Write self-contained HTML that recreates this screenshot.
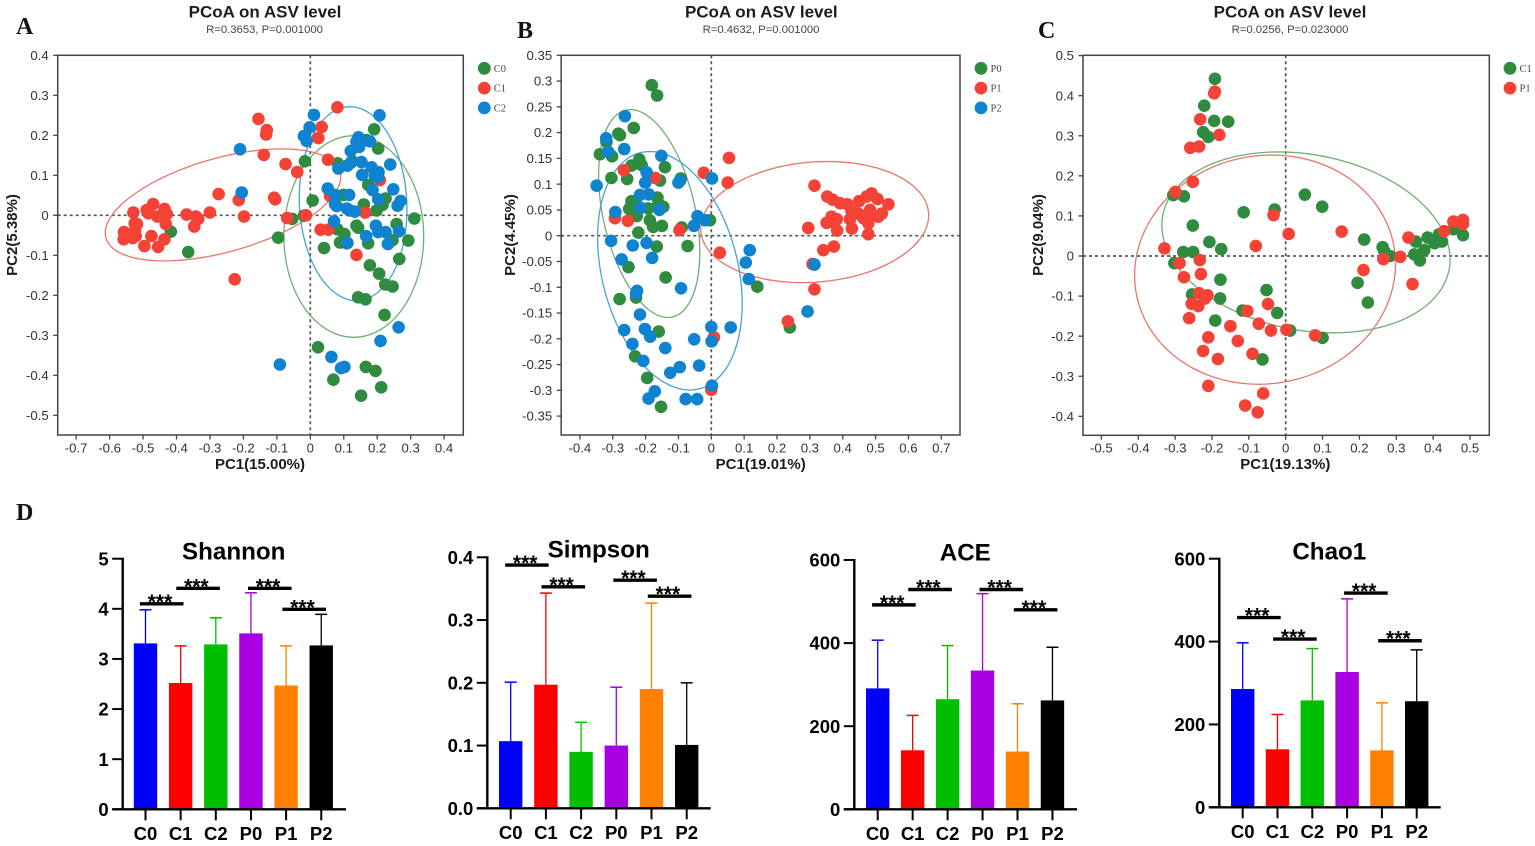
<!DOCTYPE html>
<html lang="en">
<head>
<meta charset="utf-8">
<title>PCoA and alpha diversity figure</title>
<style>
html,body{margin:0;padding:0;background:#fff;}
svg{display:block;}
text{font-family:"Liberation Sans",sans-serif;}
.letter{font-family:"Liberation Serif",serif;font-weight:bold;font-size:24px;fill:#111;}
.ptitle{font-weight:bold;font-size:17px;fill:#1c1c1c;text-anchor:middle;}
.psub{font-size:11.3px;fill:#444;text-anchor:middle;}
.axt{font-weight:bold;font-size:15px;fill:#1c1c1c;text-anchor:middle;}
.tick{font-size:13.2px;fill:#333;}
.leg{font-family:"Liberation Serif",serif;font-size:10.5px;fill:#444;}
.btitle{font-weight:bold;font-size:24.2px;fill:#000;text-anchor:middle;}
.btick{font-weight:bold;font-size:18.5px;fill:#000;}
.star{font-weight:bold;font-size:21px;fill:#000;text-anchor:middle;}
</style>
</head>
<body>
<svg id="fig" xmlns="http://www.w3.org/2000/svg" width="1535" height="846" viewBox="0 0 1535 846">
<rect x="0" y="0" width="1535" height="846" fill="#ffffff"/>
<text class="letter" x="16" y="34">A</text>
<text class="letter" x="517" y="38">B</text>
<text class="letter" x="1038" y="38">C</text>
<text class="letter" x="16" y="520">D</text>
<text class="ptitle" x="265" y="17.5">PCoA on ASV level</text>
<text class="psub" x="264.5" y="33">R=0.3653, P=0.001000</text>
<text class="ptitle" x="761.3" y="17.5">PCoA on ASV level</text>
<text class="psub" x="761" y="33">R=0.4632, P=0.001000</text>
<text class="ptitle" x="1290" y="17.5">PCoA on ASV level</text>
<text class="psub" x="1290" y="33">R=0.0256, P=0.023000</text>
<text class="axt" x="260" y="469">PC1(15.00%)</text>
<text class="axt" x="760.7" y="469">PC1(19.01%)</text>
<text class="axt" x="1285.3" y="469">PC1(19.13%)</text>
<text class="axt" transform="translate(17 235) rotate(-90)">PC2(5.38%)</text>
<text class="axt" transform="translate(515 235) rotate(-90)">PC2(4.45%)</text>
<text class="axt" transform="translate(1043 235) rotate(-90)">PC2(9.04%)</text>
<text class="btitle" x="233.7" y="559.3">Shannon</text>
<text class="btitle" x="598.7" y="557.7">Simpson</text>
<text class="btitle" x="965.3" y="560.7">ACE</text>
<text class="btitle" x="1329.3" y="559.3">Chao1</text>
</svg>
<script>
// ---------- Panel A data ----------
const xTickLabelsA = ['-0.7','-0.6','-0.5','-0.4','-0.3','-0.2','-0.1','0','0.1','0.2','0.3','0.4'];
const yTickLabelsA = ['0.4','0.3','0.2','0.1','0','-0.1','-0.2','-0.3','-0.4','-0.5'];
const groupsA = ['C0','C1','C2'];
const pointsA_C0 = [[.191,.215],[.203,.167],[.168,.188],[-.016,.135],[.082,.130],[.125,.136],[.173,.076],[.099,.051],[.007,.037],[.160,.027],[.225,.042],[.216,.026],[.198,.012],[.311,-.008],[.258,-.022],[.143,-.031],[.138,-.026],[.081,-.035],[.102,-.047],[.293,-.063],[.246,-.062],[.173,-.070],[.089,-.068],[.109,-.070],[.041,-.082],[.266,-.109],[.178,-.125],[.206,-.146],[.224,-.173],[.246,-.178],[.143,-.205],[.165,-.210],[.222,-.249],[.023,-.330],[.166,-.379],[.195,-.389],[.069,-.411],[.212,-.430],[.152,-.451],[-.096,-.056],[-.365,-.092],[-.417,-.041],[-.054,-.009],[-.019,-.001]];
const pointsA_C1 = [[.081,.270],[-.155,.241],[-.130,.213],[-.132,.202],[.034,.221],[.024,.193],[-.139,.151],[-.074,.128],[-.039,.108],[.053,.139],[.208,.088],[.059,.048],[-.108,.044],[-.105,.040],[-.214,.038],[-.274,.053],[-.300,.007],[-.370,.002],[-.342,-.003],[-.335,-.009],[-.347,-.028],[-.198,-.003],[-.069,-.007],[-.013,0],[.164,.007],[.031,-.036],[.054,-.036],[.138,-.099],[-.226,-.160],[-.529,.007],[-.470,.028],[-.489,.013],[-.484,.005],[-.436,.016],[-.429,.003],[-.457,-.003],[-.518,-.022],[-.525,-.020],[-.432,-.022],[-.524,-.037],[-.557,-.042],[-.522,-.052],[-.558,-.060],[-.531,-.057],[-.475,-.052],[-.436,-.060],[-.496,-.077],[-.455,-.079]];
const pointsA_C2 = [[.011,.251],[.207,.250],[-.002,.220],[-.019,.198],[-.011,.186],[-.210,.165],[.144,.195],[.138,.184],[.146,.171],[.178,.185],[.121,.161],[.153,.133],[.121,.131],[.111,.124],[.084,.117],[.239,.127],[.183,.120],[.204,.108],[.155,.101],[.193,.099],[.203,.095],[.052,.067],[.186,.063],[.248,.065],[-.205,.057],[.116,.051],[.074,.051],[.203,.040],[.270,.036],[.261,.024],[.074,.028],[.079,.023],[.109,.017],[.119,.012],[.133,.009],[.071,-.015],[.196,-.026],[.203,-.042],[.225,-.042],[.265,-.040],[.167,-.052],[.111,-.069],[.232,-.072],[.264,-.280],[.210,-.314],[.063,-.354],[.092,-.382],[.102,-.379],[-.091,-.373]];
// ellipse: [centre PC1, centre PC2, spread PC1, spread PC2, correlation]
const ellipseA_C0 = [.130,-.053,.209,.252,0];
const ellipseA_C1 = [-.261,.026,.352,.140,.5];
const ellipseA_C2 = [.128,.029,.161,.2425,-.06];

// ---------- Panel B data ----------
const xTickLabelsB = ['-0.4','-0.3','-0.2','-0.1','0','0.1','0.2','0.3','0.4','0.5','0.6','0.7'];
const yTickLabelsB = ['0.35','0.3','0.25','0.2','0.15','0.1','0.05','0','-0.05','-0.1','-0.15','-0.2','-0.25','-0.3','-0.35'];
const groupsB = ['P0','P1','P2'];
const pointsB_P0 = [[-.181,.292],[-.165,.272],[-.236,.209],[-.283,.198],[-.278,.195],[-.319,.182],[-.339,.158],[-.302,.154],[-.304,.112],[-.256,.110],[-.219,.148],[-.243,.136],[-.212,.137],[-.141,.133],[-.093,.111],[-.156,.107],[-.243,.067],[-.164,.074],[-.161,.063],[-.146,.056],[-.250,.052],[-.227,.038],[-.222,.056],[-.192,.053],[-.187,.030],[-.177,.017],[-.150,.019],[-.222,.006],[-.090,.016],[-.004,.030],[-.166,-.021],[-.072,-.020],[-.252,-.061],[-.139,-.081],[.140,-.099],[-.279,-.123],[-.229,-.120],[-.160,-.186],[-.232,-.234],[-.195,-.276],[-.153,-.332],[.239,-.178]];
const pointsB_P1 = [[.054,.151],[-.023,.122],[.050,.103],[-.266,.127],[-.171,.112],[-.293,.034],[-.254,.029],[-.097,.011],[.026,-.033],[.314,.097],[.295,.015],[.353,.076],[.369,.070],[.392,.063],[.414,.061],[.450,.067],[.488,.082],[.473,.076],[.506,.071],[.539,.061],[.427,.048],[.447,.043],[.422,.032],[.483,.050],[.519,.043],[.508,.037],[.473,.040],[.463,.034],[.478,.024],[.428,.014],[.478,.003],[.366,.037],[.382,.032],[.351,.025],[.373,.025],[.383,.010],[.373,-.021],[.341,-.028],[.308,-.055],[.314,-.104],[.233,-.166],[.008,-.197],[0,-.299]];
const pointsB_P2 = [[-.263,.232],[-.320,.189],[-.314,.163],[-.265,.168],[-.152,.155],[-.197,.123],[-.201,.103],[-.349,.097],[-.100,.103],[-.095,.107],[.002,.111],[-.217,.079],[-.190,.080],[-.215,.054],[-.158,.050],[-.292,.046],[-.042,.038],[-.019,.030],[-.053,.019],[-.305,-.010],[-.239,-.019],[-.197,-.014],[-.180,-.043],[-.273,-.046],[.117,-.028],[.105,-.052],[.114,-.084],[.314,-.056],[-.092,-.102],[-.226,-.107],[-.229,-.112],[-.217,-.153],[-.265,-.183],[-.202,-.181],[-.186,-.196],[-.240,-.210],[-.140,-.218],[-.052,-.201],[0,-.177],[.059,-.178],[.001,-.205],[-.207,-.243],[-.096,-.255],[-.037,-.252],[-.125,-.266],[.002,-.291],[-.172,-.302],[-.191,-.316],[-.078,-.317],[-.043,-.317],[.293,-.147]];
const ellipseB_P0 = [-.189,.043,.154,.2017,-.37];
const ellipseB_P1 = [.3146,.0265,.347,.1175,.11];
const ellipseB_P2 = [-.126,-.068,.220,.2314,-.276];

// ---------- Panel C data ----------
const xTickLabelsC = ['-0.5','-0.4','-0.3','-0.2','-0.1','0','0.1','0.2','0.3','0.4','0.5'];
const yTickLabelsC = ['0.5','0.4','0.3','0.2','0.1','0','-0.1','-0.2','-0.3','-0.4'];
const groupsC = ['C1','P1'];
const pointsC_C1 = [[-.192,.442],[-.221,.375],[-.194,.337],[-.156,.335],[-.224,.309],[-.210,.297],[-.305,.152],[-.276,.149],[-.252,.076],[-.030,.116],[-.114,.109],[.052,.153],[.099,.123],[-.207,.035],[-.175,.017],[-.278,.010],[-.251,.010],[-.302,-.018],[-.177,-.059],[-.254,-.096],[-.178,-.106],[-.052,-.085],[-.023,-.142],[-.117,-.136],[-.191,-.161],[.012,-.186],[.100,-.204],[-.063,-.258],[.195,-.067],[.223,-.116],[.213,.041],[.263,.022],[.267,.013],[.283,0],[.353,.036],[.349,.004],[.376,.015],[.364,-.011],[.385,.046],[.404,.032],[.416,.054],[.424,.036],[.455,.067],[.481,.052]];
const pointsC_P1 = [[-.192,.410],[-.194,.406],[-.232,.341],[-.180,.302],[-.259,.270],[-.235,.273],[-.252,.185],[-.299,.160],[-.033,.102],[.008,.055],[-.081,.025],[.152,.061],[-.329,.019],[-.288,-.018],[-.233,-.010],[-.230,-.045],[-.276,-.053],[-.235,-.093],[-.212,-.098],[-.219,-.106],[-.255,-.119],[-.237,-.125],[-.262,-.155],[-.104,-.137],[-.048,-.120],[-.073,-.169],[-.150,-.175],[-.040,-.186],[.002,-.184],[.080,-.198],[-.210,-.203],[-.130,-.212],[-.224,-.237],[-.090,-.244],[-.184,-.257],[-.210,-.324],[-.061,-.343],[-.110,-.373],[-.076,-.390],[.211,-.035],[.265,-.008],[.311,-.002],[.344,-.070],[.333,.046],[.430,.062],[.455,.086],[.481,.090],[.481,.080]];
const ellipseC_C1 = [.055,.034,.391,.2257,-.19];
const ellipseC_P1 = [-.056,-.034,.354,.286,.05];

// ---------- Panel D data ----------
const barCategories = ['C0','C1','C2','P0','P1','P2'];
const shannonMeans = [3.31,2.52,3.29,3.51,2.47,3.27];
const shannonUpper = [3.98,3.26,3.82,4.32,3.26,3.89];
const shannonTicks = ['0','1','2','3','4','5'];
const shannonSigPairs = [[0,1],[1,2],[3,4],[4,5]];
const shannonSigLevels = [4.10,4.41,4.41,3.99];

const simpsonMeans = [.107,.197,.090,.100,.190,.101];
const simpsonUpper = [.201,.343,.137,.193,.327,.200];
const simpsonTicks = ['0.0','0.1','0.2','0.3','0.4'];
const simpsonSigPairs = [[0,1],[1,2],[3,4],[4,5]];
const simpsonSigLevels = [.3877,.353,.3636,.338];

const aceMeans = [291,142,265,334,139,262];
const aceUpper = [407,226,394,519,254,390];
const aceTicks = ['0','200','400','600'];
const aceSigPairs = [[0,1],[1,2],[3,4],[4,5]];
const aceSigLevels = [492,529,529,480];

const chaoMeans = [285.5,140,258,326.5,137.5,256];
const chaoUpper = [397,224,383,503,252,380];
const chaoTicks = ['0','200','400','600'];
const chaoSigPairs = [[0,1],[1,2],[3,4],[4,5]];
const chaoSigLevels = [458,406,517,402];

// ---------- Drawing ----------
const SVGNS = 'http://www.w3.org/2000/svg';
const fig = document.getElementById('fig');
function mk(tag, attrs, parent, txt) {
  const n = document.createElementNS(SVGNS, tag);
  for (const k in attrs) n.setAttribute(k, attrs[k]);
  if (txt !== undefined) n.textContent = txt;
  (parent || fig).appendChild(n);
  return n;
}
function linear(v0, p0, v1, p1) {
  return v => p0 + (v - v0) * (p1 - p0) / (v1 - v0);
}
const SCATTER_COLORS = {green:'#2f8b3e', red:'#f44336', blue:'#0f83d0'};
const ELLIPSE_COLORS = {green:'#6fae74', red:'#e9756c', blue:'#45a3d6'};

function drawScatter(cfg) {
  const g = mk('g', {}, fig);
  
  
  const X = cfg.x, Y = cfg.y, b = cfg.box;

  const zeroV = mk('line', {x1:X(0), x2:X(0), y1:b.top, y2:b.bottom, stroke:'#555', 'stroke-width':1.7, 'stroke-dasharray':'3 3'}, g);
  
  
  const zeroH = mk('line', {x1:b.left, x2:b.right, y1:Y(0), y2:Y(0), stroke:'#555', 'stroke-width':1.7, 'stroke-dasharray':'3 3'}, g);
  
  

  cfg.series.forEach(s => {
    const e = s.ellipse;
    let d = '';
    for (let i = 0; i <= 96; i++) {
      const t = i / 96 * 2 * Math.PI;
      const vx = e[0] + e[2] * Math.cos(t);
      const vy = e[1] + e[3] * (e[4] * Math.cos(t) + Math.sqrt(1 - e[4] * e[4]) * Math.sin(t));
      d += (i ? 'L' : 'M') + X(vx).toFixed(2) + ' ' + Y(vy).toFixed(2);
    }
    const p = mk('path', {d:d + 'Z', fill:'none', stroke:ELLIPSE_COLORS[s.color], 'stroke-width':1.3}, g);
    
    
  });

  cfg.series.forEach(s => {
    s.points.forEach(pt => {
      const c = mk('circle', {cx:X(pt[0]), cy:Y(pt[1]), r:6.3, fill:SCATTER_COLORS[s.color]}, g);
      
      
    });
  });

  const frame = mk('rect', {x:b.left, y:b.top, width:b.right - b.left, height:b.bottom - b.top, fill:'none', stroke:'#444', 'stroke-width':1.5}, g);
  
  

  cfg.xTicks.forEach(lbl => {
    const v = parseFloat(lbl);
    const t = mk('line', {x1:X(v), x2:X(v), y1:b.bottom, y2:b.bottom + 4.5, stroke:'#444', 'stroke-width':1.3}, g);
    
    
    const l = mk('text', {x:X(v), y:452.7, class:'tick', 'text-anchor':'middle'}, g, lbl);
    
    
  });
  cfg.yTicks.forEach(lbl => {
    const v = parseFloat(lbl);
    const t = mk('line', {x1:b.left - 4.5, x2:b.left, y1:Y(v), y2:Y(v), stroke:'#444', 'stroke-width':1.3}, g);
    
    
    const l = mk('text', {x:b.left - 9, y:Y(v) + 4.6, class:'tick', 'text-anchor':'end'}, g, lbl);
    
    
  });

  cfg.series.forEach((s, i) => {
    const ly = 68.3 + i * 19.8;
    const c = mk('circle', {cx:cfg.legendX, cy:ly, r:6.4, fill:SCATTER_COLORS[s.color]}, g);
    
    
    const t = mk('text', {x:cfg.legendX + 9.5, y:ly + 3.6, class:'leg'}, g, s.label);
    
    
  });
}

drawScatter({
  name:'panel-a-pcoa-chart',
  box:{left:57.7, right:463.3, top:55.3, bottom:435},
  x:linear(0, 310.3, 0.4, 444.1), y:linear(0, 215.3, 0.4, 55.3),
  xTicks:xTickLabelsA, yTicks:yTickLabelsA, legendX:484.3,
  series:[
    {label:groupsA[0], color:'green', points:pointsA_C0, ellipse:ellipseA_C0},
    {label:groupsA[1], color:'red', points:pointsA_C1, ellipse:ellipseA_C1},
    {label:groupsA[2], color:'blue', points:pointsA_C2, ellipse:ellipseA_C2}
  ]
});
drawScatter({
  name:'panel-b-pcoa-chart',
  box:{left:561.2, right:960, top:55.3, bottom:435},
  x:linear(0, 711.3, 0.7, 941.3), y:linear(0, 235.7, 0.35, 55.3),
  xTicks:xTickLabelsB, yTicks:yTickLabelsB, legendX:981,
  series:[
    {label:groupsB[0], color:'green', points:pointsB_P0, ellipse:ellipseB_P0},
    {label:groupsB[1], color:'red', points:pointsB_P1, ellipse:ellipseB_P1},
    {label:groupsB[2], color:'blue', points:pointsB_P2, ellipse:ellipseB_P2}
  ]
});
drawScatter({
  name:'panel-c-pcoa-chart',
  box:{left:1083, right:1489.3, top:55.3, bottom:435.3},
  x:linear(0, 1285.7, 0.5, 1470), y:linear(0, 256, 0.5, 55.6),
  xTicks:xTickLabelsC, yTicks:yTickLabelsC, legendX:1510,
  series:[
    {label:groupsC[0], color:'green', points:pointsC_C1, ellipse:ellipseC_C1},
    {label:groupsC[1], color:'red', points:pointsC_P1, ellipse:ellipseC_P1}
  ]
});

const BAR_COLORS = ['#0000ff','#ff0000','#00bf00','#a800e0','#ff8000','#000000'];
function drawBars(cfg) {
  const g = mk('g', {}, fig);
  
  
  const Y = cfg.y;
  const cat = i => cfg.x0 + i * cfg.step;
  const y0 = Y(0);

  cfg.means.forEach((m, i) => {
    const c = BAR_COLORS[i];
    const err = mk('line', {x1:cat(i), x2:cat(i), y1:Y(cfg.upper[i]), y2:Y(m), stroke:c, 'stroke-width':1.3}, g);
    
    
    const cap = mk('line', {x1:cat(i) - 6, x2:cat(i) + 6, y1:Y(cfg.upper[i]), y2:Y(cfg.upper[i]), stroke:c, 'stroke-width':1.5}, g);
    
    
    const bar = mk('rect', {x:cat(i) - 11.7, y:Y(m), width:23.4, height:y0 - Y(m), fill:c}, g);
    
    
    const t = mk('line', {x1:cat(i), x2:cat(i), y1:y0, y2:y0 + 11, stroke:'#000', 'stroke-width':2}, g);
    
    
    const l = mk('text', {x:cat(i), y:y0 + 30.7, class:'btick', 'text-anchor':'middle'}, g, barCategories[i]);
    
    
  });

  const xa = mk('line', {x1:cfg.axis - 10.5, x2:cfg.axisEnd, y1:y0, y2:y0, stroke:'#000', 'stroke-width':2.4}, g);
  
  
  const ya = mk('line', {x1:cfg.axis, x2:cfg.axis, y1:Y(parseFloat(cfg.ticks[cfg.ticks.length - 1])) - 1, y2:y0 + 1, stroke:'#000', 'stroke-width':2.4}, g);
  
  

  cfg.ticks.forEach(lbl => {
    const v = parseFloat(lbl);
    const t = mk('line', {x1:cfg.axis - 10.5, x2:cfg.axis, y1:Y(v), y2:Y(v), stroke:'#000', 'stroke-width':2}, g);
    
    
    const l = mk('text', {x:cfg.axis - 14, y:Y(v) + 6.6, class:'btick', 'text-anchor':'end'}, g, lbl);
    
    
  });

  const nudge = [-5.6, -4.4, -3, -3.7];
  cfg.sigPairs.forEach((pair, i) => {
    const a = cat(pair[0]) + nudge[i], b = a + 43.6, yy = Y(cfg.sigLevels[i]);
    const br = mk('line', {x1:a, x2:b, y1:yy, y2:yy, stroke:'#000', 'stroke-width':3.4}, g);
    
    
    const st = mk('text', {x:(a + b) / 2 - 1.7, y:yy + 5, class:'star'}, g, '***');
    
    
  });
}

drawBars({name:'shannon-bar-chart', y:linear(0, 809.3, 5, 558.7), x0:145.5, step:35.15, axis:122.7, axisEnd:346, means:shannonMeans, upper:shannonUpper, ticks:shannonTicks, sigPairs:shannonSigPairs, sigLevels:shannonSigLevels});
drawBars({name:'simpson-bar-chart', y:linear(0, 808.3, 0.4, 557.3), x0:510.7, step:35.2, axis:487.3, axisEnd:710.7, means:simpsonMeans, upper:simpsonUpper, ticks:simpsonTicks, sigPairs:simpsonSigPairs, sigLevels:simpsonSigLevels});
drawBars({name:'ace-bar-chart', y:linear(0, 809.3, 600, 560), x0:877.7, step:34.95, axis:854.3, axisEnd:1077, means:aceMeans, upper:aceUpper, ticks:aceTicks, sigPairs:aceSigPairs, sigLevels:aceSigLevels});
drawBars({name:'chao1-bar-chart', y:linear(0, 807.3, 600, 558.7), x0:1242.7, step:34.8, axis:1219.3, axisEnd:1440.7, means:chaoMeans, upper:chaoUpper, ticks:chaoTicks, sigPairs:chaoSigPairs, sigLevels:chaoSigLevels});
</script>
</body>
</html>
